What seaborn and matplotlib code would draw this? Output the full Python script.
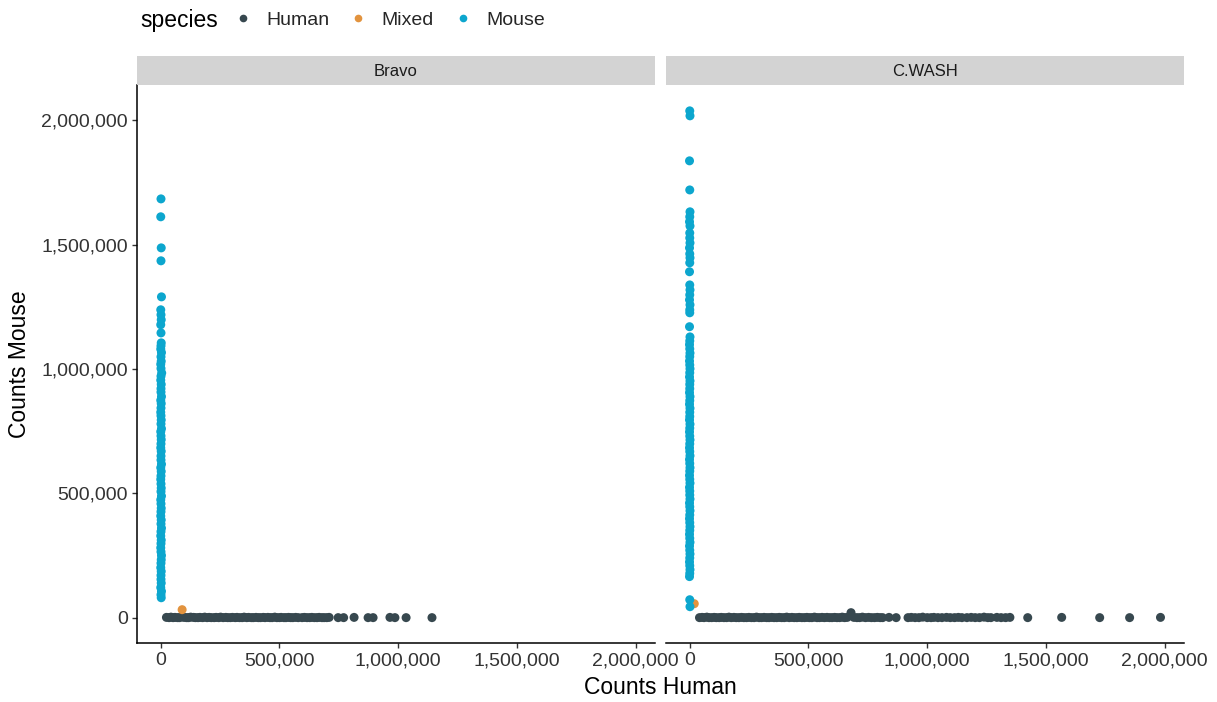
import pandas as pd
import matplotlib.pyplot as plt
import seaborn as sns
from matplotlib.lines import Line2D
from matplotlib.patches import Rectangle
from matplotlib.ticker import FuncFormatter

# values, in thousands of counts
species_order = ['Human', 'Mixed', 'Mouse']
palette = {'Human': '#37484F', 'Mixed': '#E2933E', 'Mouse': '#0CA6CE'}
panels = ['Bravo', 'C.WASH']

bravo_human_x = [25, 36, 44, 53, 61, 72, 80, 91, 99, 110,
                 118, 127, 139, 147, 158, 166, 177, 186, 196, 205,
                 214, 226, 234, 245, 253, 264, 275, 283, 294, 303,
                 315, 322, 333, 344, 352, 363, 371, 383, 391, 402,
                 412, 421, 433, 440, 452, 461, 470, 481, 490, 501,
                 508, 520, 528, 539, 548, 557, 569, 580, 596, 606,
                 617, 628, 637, 648, 659, 668, 680, 689, 700, 710,
                 748, 771, 815, 874, 895, 966, 987, 1034, 1143]
bravo_human_y = [1, 0, 2, 0, 1, 0, 0, 3, 1, 0,
                 0, 2, 1, 0, 0, 1, 0, 2, 0, 1,
                 0, 0, 1, 0, 2, 0, 1, 0, 0, 1,
                 0, 1, 0, 0, 2, 0, 1, 0, 0, 1,
                 0, 0, 1, 0, 1, 0, 0, 2, 0, 0,
                 1, 0, 0, 1, 0, 0, 1, 0, 0, 1,
                 0, 0, 1, 0, 0, 1, 0, 0, 0, 1,
                 0, 0, 1, 0, 0, 1, 0, 0, 0]
bravo_mixed_x = [91]
bravo_mixed_y = [32]
bravo_mouse_x = [2, 1, 3, 2, 4, 1, 2, 3, 1, 2,
                 3, 2, 1, 4, 2, 3, 1, 2, 5, 2,
                 1, 3, 2, 2, 4, 1, 3, 2, 1, 2,
                 3, 2, 4, 1, 2, 3, 2, 1, 3, 2,
                 2, 4, 1, 3, 2, 1, 2, 3, 2, 4,
                 1, 2, 3, 2, 1, 3, 2, 4, 2, 1,
                 3, 2, 1, 2, 4, 3, 2, 1, 3, 2,
                 2, 3, 1, 4, 2, 3]
bravo_mouse_y = [1684, 1612, 1487, 1435, 1290, 1238, 1218, 1198, 1178, 1145,
                 1105, 1093, 1080, 1066, 1049, 1031, 1019, 1002, 984, 971,
                 955, 938, 921, 907, 889, 874, 861, 843, 826, 812,
                 795, 779, 760, 748, 731, 716, 699, 683, 669, 650,
                 634, 617, 603, 588, 570, 556, 538, 521, 507, 489,
                 474, 458, 440, 426, 409, 393, 377, 360, 346, 329,
                 312, 298, 281, 265, 250, 233, 219, 201, 186, 170,
                 154, 139, 121, 106, 92, 80]

cwash_human_x = [42, 53, 61, 73, 82, 93, 104, 113, 125, 134,
                 145, 156, 166, 176, 187, 197, 208, 219, 229, 240,
                 250, 261, 272, 282, 293, 303, 314, 325, 335, 346,
                 356, 367, 378, 388, 399, 409, 420, 431, 441, 452,
                 462, 473, 484, 494, 505, 515, 526, 537, 547, 558,
                 568, 579, 590, 600, 611, 621, 632, 643, 653, 664,
                 680, 692, 705, 716, 728, 741, 754, 766, 779, 791,
                 803, 813, 840, 870, 920, 934, 950, 966, 982, 1001,
                 1017, 1029, 1046, 1063, 1082, 1098, 1116, 1132, 1147, 1168,
                 1186, 1203, 1221, 1240, 1256, 1269, 1294, 1312, 1331, 1349,
                 1424, 1567, 1727, 1853, 1983]
cwash_human_y = [0, 1, 0, 2, 0, 0, 1, 0, 0, 1,
                 0, 0, 2, 0, 1, 0, 0, 1, 0, 0,
                 1, 0, 0, 2, 0, 0, 1, 0, 0, 1,
                 0, 0, 1, 0, 0, 2, 0, 1, 0, 0,
                 1, 0, 0, 1, 0, 0, 2, 0, 0, 1,
                 0, 1, 0, 0, 1, 0, 0, 2, 0, 1,
                 20, 1, 0, 0, 2, 0, 1, 0, 0, 1,
                 0, 0, 1, 0, 0, 1, 0, 0, 2, 0,
                 0, 1, 0, 0, 1, 0, 0, 1, 0, 0,
                 1, 0, 0, 2, 0, 0, 1, 0, 0, 1,
                 0, 1, 0, 0, 1]
cwash_mixed_x = [20]
cwash_mixed_y = [56]
cwash_mouse_x = [1, 2, 0, 1, 2, 1, 0, 2, 1, 1,
                 2, 0, 1, 2, 1, 0, 1, 2, 1, 0,
                 2, 1, 1, 0, 2, 1, 0, 1, 2, 1,
                 0, 1, 2, 1, 0, 2, 1, 1, 0, 2,
                 1, 0, 2, 1, 1, 0, 2, 1, 0, 1,
                 2, 1, 0, 1, 2, 0, 1, 2, 1, 0,
                 1, 2, 0, 1, 1, 2, 0, 1, 2, 1,
                 0, 1, 2, 1, 0, 1, 2, 0, 1, 2,
                 1, 0, 1, 2, 1, 0, 1, 2]
cwash_mouse_y = [2038, 2018, 1837, 1720, 1632, 1612, 1592, 1575, 1547, 1527,
                 1507, 1487, 1463, 1447, 1427, 1391, 1338, 1318, 1298, 1278,
                 1258, 1238, 1226, 1170, 1129, 1113, 1098, 1081, 1064, 1050,
                 1032, 1016, 1001, 985, 968, 952, 938, 921, 905, 889,
                 873, 858, 842, 826, 809, 795, 778, 762, 747, 730,
                 715, 699, 683, 668, 651, 636, 620, 603, 589, 572,
                 556, 541, 524, 509, 493, 477, 461, 446, 430, 413,
                 398, 382, 366, 351, 335, 319, 303, 288, 271, 256,
                 240, 224, 209, 193, 178, 165, 72, 44]

x_ticks = [0, 500000, 1000000, 1500000, 2000000]
y_ticks = [0, 500000, 1000000, 1500000, 2000000]

# long table, drawn in this row order (human, mixed, then mouse on top)
parts = [
    ('Bravo', 'Human', bravo_human_x, bravo_human_y),
    ('Bravo', 'Mixed', bravo_mixed_x, bravo_mixed_y),
    ('Bravo', 'Mouse', bravo_mouse_x, bravo_mouse_y),
    ('C.WASH', 'Human', cwash_human_x, cwash_human_y),
    ('C.WASH', 'Mixed', cwash_mixed_x, cwash_mixed_y),
    ('C.WASH', 'Mouse', cwash_mouse_x, cwash_mouse_y),
]
df = pd.concat([pd.DataFrame({'instrument': inst, 'species': sp,
                              'counts_human': [v * 1000 for v in xs],
                              'counts_mouse': [v * 1000 for v in ys]})
                for inst, sp, xs, ys in parts], ignore_index=True)

sns.set_theme(style='white')
plt.rcParams['font.family'] = ['Liberation Sans', 'DejaVu Sans']

W, H = 1217, 702
fig = plt.figure(figsize=(W / 100, H / 100), dpi=100)


def box(l, t, r, b):
    return [l / W, 1 - b / H, (r - l) / W, (b - t) / H]


comma = FuncFormatter(lambda v, p: f'{int(v):,}')
lefts = [137, 666]
for i, inst in enumerate(panels):
    l = lefts[i]
    ax = fig.add_axes(box(l, 85, l + 518, 643))
    sub = df[df['instrument'] == inst]
    sns.scatterplot(data=sub, x='counts_human', y='counts_mouse', hue='species',
                    hue_order=species_order, palette=palette, s=42,
                    linewidth=0, alpha=1, legend=False, ax=ax)
    ax.set_xlim(-99000, 2082000)
    ax.set_ylim(-102000, 2142000)
    ax.set_xticks(x_ticks)
    ax.set_yticks(y_ticks)
    ax.xaxis.set_major_formatter(comma)
    ax.yaxis.set_major_formatter(comma)
    ax.set_xlabel('')
    ax.set_ylabel('')
    for s in ['top', 'right']:
        ax.spines[s].set_visible(False)
    for s in ['left', 'bottom']:
        ax.spines[s].set_color('black')
        ax.spines[s].set_linewidth(1.1)
    ax.tick_params(axis='both', length=3.5, width=1, color='#333333',
                   labelsize=14, labelcolor='#333333', pad=3,
                   bottom=True, left=True)
    if i == 1:
        ax.spines['left'].set_visible(False)
        ax.tick_params(axis='y', left=False, labelleft=False)
    # facet strip
    fig.add_artist(Rectangle((l / W, 1 - 85 / H), 518 / W, 29 / H,
                             transform=fig.transFigure, facecolor='#D3D3D3',
                             edgecolor='none'))
    fig.text((l + 259) / W, 1 - 71 / H, inst, ha='center', va='center',
             fontsize=12, color='#1A1A1A')

fig.text(660 / W, 1 - 688 / H, 'Counts Human', ha='center', va='center',
         fontsize=16.5, color='black')
fig.text(20 / W, 1 - 364 / H, 'Counts Mouse', ha='center', va='center',
         rotation=90, fontsize=16.5, color='black')

# legend on top, title to the left
fig.text(140 / W, 1 - 20 / H, 'species', ha='left', va='center',
         fontsize=16.5, color='black')
handles = [Line2D([], [], marker='o', linestyle='', markersize=5.5,
                  markerfacecolor=palette[sp], markeredgewidth=0)
           for sp in species_order]
fig.legend(handles, species_order, ncol=3, loc='center left',
           bbox_to_anchor=(231 / W, 1 - 20 / H), frameon=False,
           fontsize=14, handletextpad=0.6, columnspacing=0.9,
           handlelength=1.2, borderpad=0, borderaxespad=0)

fig.savefig('out.png', dpi=100)
